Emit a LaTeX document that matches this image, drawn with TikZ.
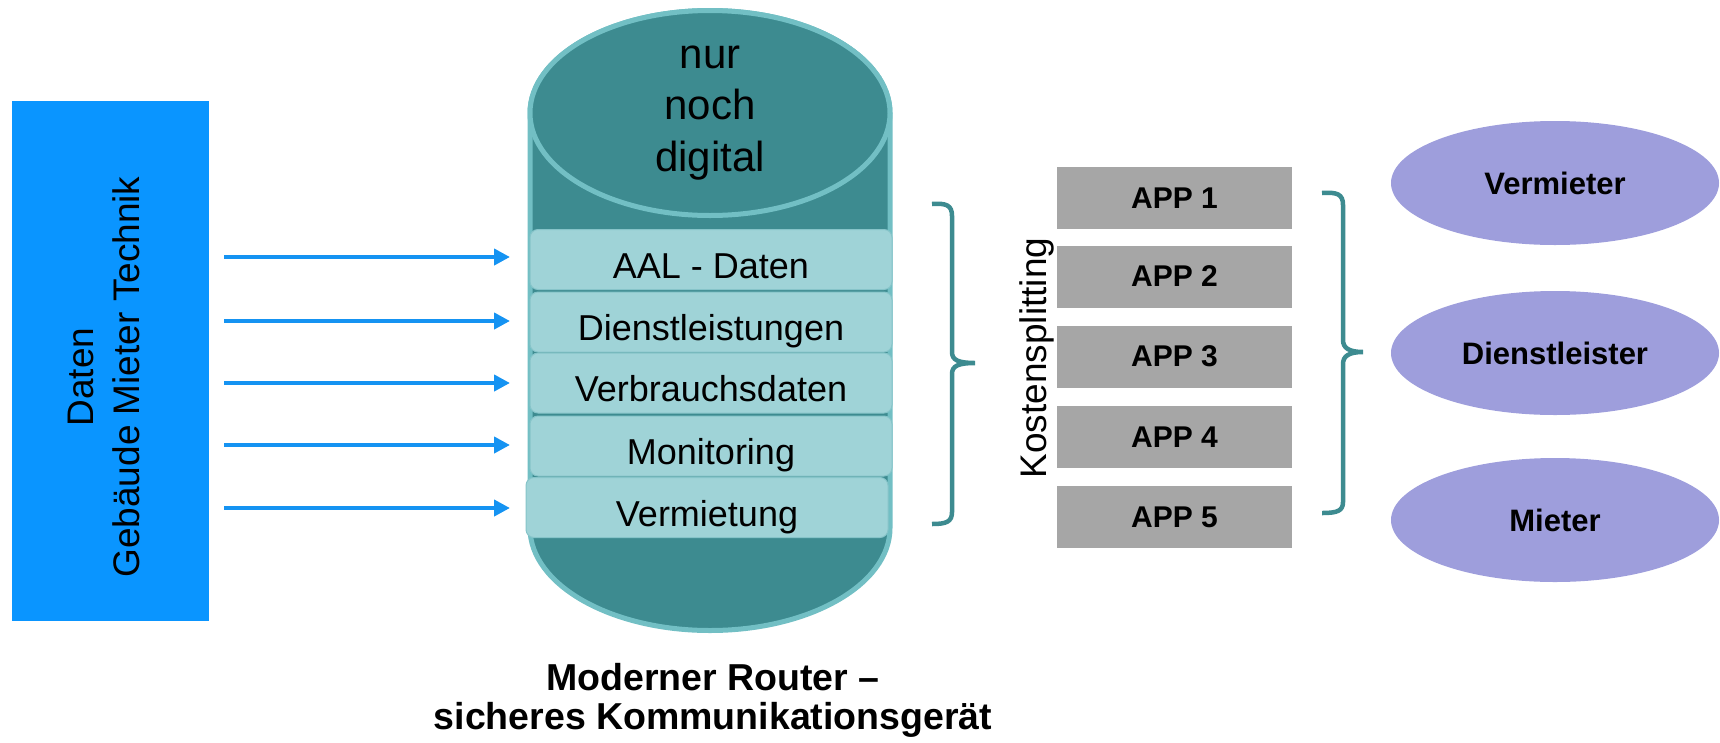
\documentclass[tikz,border=0pt]{standalone}
\usepackage{fontspec}
\setmainfont{Liberation Sans}
\usetikzlibrary{shapes.geometric,arrows.meta}
\definecolor{boxblue}{HTML}{0A95FF}
\definecolor{arrowblue}{HTML}{1593F2}
\definecolor{cylfill}{HTML}{3D8B90}
\definecolor{cyledge}{HTML}{72BFC4}
\definecolor{bandfill}{HTML}{9FD3D7}
\definecolor{bandedge}{HTML}{86C4C9}
\definecolor{appgray}{HTML}{A6A6A6}
\definecolor{rolefill}{HTML}{9E9EDC}
\definecolor{bracecol}{HTML}{3D8B90}
\begin{document}
\begin{tikzpicture}[x=1pt,y=-1pt,
 band/.style={draw=bandedge, line width=1pt, fill=bandfill, rounded corners=8pt, minimum width=362pt, minimum height=60pt, inner sep=0pt, text height=37pt, text depth=0pt, font=\fontsize{36}{43}\selectfont},
 app/.style={fill=appgray, minimum width=235pt, minimum height=62pt, inner sep=0pt, font=\bfseries\fontsize{30}{36}\selectfont},
 role/.style={ellipse, fill=rolefill, minimum width=328pt, minimum height=124pt, inner sep=0pt, font=\bfseries\fontsize{31}{37}\selectfont},
 flow/.style={draw=arrowblue, line width=4.8pt, -{Triangle[length=16pt,width=16pt,fill=arrowblue]}},
 bracket/.style={draw=bracecol, line width=4.5pt}
]
\useasboundingbox (0,0) rectangle (1720,742);

% source box
\node[fill=boxblue, minimum width=197pt, minimum height=520pt, inner sep=0pt] (src) at (110.5,361) {};
\node[rotate=90, align=center, font=\fontsize{37}{45.5}\selectfont] (srctext) at (104,377) {Daten\\Gebäude Mieter Technik};

% cylinder body
\path[fill=cylfill, draw=cyledge, line width=5pt] (530,113) -- (530,528) arc[start angle=180, end angle=0, x radius=180, y radius=102.5] -- (890,113) arc[start angle=0, end angle=-180, x radius=180, y radius=102.5] -- cycle;
\node[ellipse, fill=cylfill, draw=cyledge, line width=5pt, minimum width=360pt, minimum height=205pt, inner sep=0pt, align=center, font=\fontsize{42}{51.5}\selectfont] (top) at (710,113) {nur\\noch\\digital};

% bands
\node[band] (b1) at (711,259.5) {AAL - Daten};
\node[band] (b2) at (711,322) {Dienstleistungen};
\node[band] (b3) at (711,383) {Verbrauchsdaten};
\node[band] (b4) at (711,446) {Monitoring};
\node[band] (b5) at (707,507.5) {Vermietung};

% arrows
\foreach \i/\y in {1/257,2/321,3/383,4/445,5/508}{
  \coordinate (s\i) at (224,\y);
  \coordinate (e\i) at (510,\y);
  \draw[flow] (s\i) -- (e\i);
}

% caption
\node[align=center, font=\bfseries\fontsize{37.5}{38.5}\selectfont] (caption) at (713,700.5) {Moderner Router –\\sicheres Kommunikationsgerät};

% left bracket
\draw[bracket] (932,204) .. controls (946,203) and (952,205) .. (952,216) -- (952,352) .. controls (952,360) and (958,363) .. (975,363) .. controls (958,363) and (952,366) .. (952,374) -- (952,512) .. controls (952,522) and (946,524) .. (932,524);

% Kostensplitting
\node[rotate=90, font=\fontsize{37}{44}\selectfont] (kosten) at (1037,358) {Kostensplitting};

% apps
\node[app] (app1) at (1174.5,198) {APP 1};
\node[app] (app2) at (1174.5,276.5) {APP 2};
\node[app] (app3) at (1174.5,356.5) {APP 3};
\node[app] (app4) at (1174.5,437) {APP 4};
\node[app] (app5) at (1174.5,517) {APP 5};

% right bracket
\draw[bracket] (1322,193) .. controls (1337,192) and (1343,194) .. (1343,205) -- (1343,340) .. controls (1343,348) and (1349,352) .. (1363,352) .. controls (1349,352) and (1343,356) .. (1343,364) -- (1343,502) .. controls (1343,511) and (1337,513) .. (1322,513);

% roles
\node[role] (vermieter) at (1555,183) {Vermieter};
\node[role] (dienst) at (1555,353) {Dienstleister};
\node[role] (mieter) at (1555,520) {Mieter};
\end{tikzpicture}
\end{document}
